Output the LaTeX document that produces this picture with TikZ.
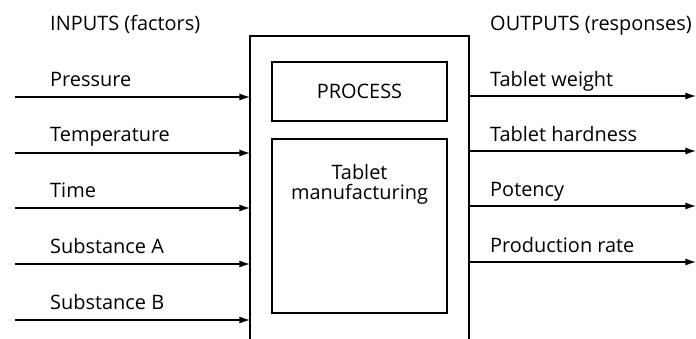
\documentclass[tikz,border=0pt]{standalone}
\usepackage{fontspec}
\setmainfont{Open Sans}
\usetikzlibrary{arrows.meta}

\begin{document}
\begin{tikzpicture}[x=0.03cm,y=-0.03cm,
    font=\fontsize{17}{20}\selectfont,
    flow/.style={line width=1.1pt,-{Latex[length=9pt,width=6pt]}},
    lbl/.style={anchor=base west,inner sep=0pt}]
      \useasboundingbox (0,0) rectangle (696,339) ;
      % outer process block, open at the bottom
      \draw[line width=1.1pt] (250,339)--(250,36)--(469,36)--(469,339) ;
      \node[draw,line width=1.1pt,minimum width=175*0.03cm,minimum height=59*0.03cm] %
      (proc) at (359.5,91.5) {PROCESS} ;
      \node[draw,line width=1.1pt,minimum width=175*0.03cm,minimum height=174*0.03cm] %
      (mfg) at (359.5,226) {} ;
      \node[align=center,anchor=north] (mfgtxt) at (359.5,160) %
      {Tablet\\[-3pt]manufacturing} ;
      % headings
      \node[lbl] (inhead) at (50,31) {INPUTS (factors)} ;
      \node[lbl] (outhead) at (490,31) {OUTPUTS (responses)} ;
      % inputs
      \coordinate (i1s) at (15,97) ;  \coordinate (i1e) at (250,97) ;
      \coordinate (i2s) at (15,153) ; \coordinate (i2e) at (250,153) ;
      \coordinate (i3s) at (15,208) ; \coordinate (i3e) at (250,208) ;
      \coordinate (i4s) at (15,264) ; \coordinate (i4e) at (250,264) ;
      \coordinate (i5s) at (15,320) ; \coordinate (i5e) at (250,320) ;
      \draw[flow] (i1s)--(i1e) ;
      \draw[flow] (i2s)--(i2e) ;
      \draw[flow] (i3s)--(i3e) ;
      \draw[flow] (i4s)--(i4e) ;
      \draw[flow] (i5s)--(i5e) ;
      \node[lbl] (pressure) at (50,87) {Pressure} ;
      \node[lbl] (temp) at (50,142) {Temperature} ;
      \node[lbl] (time) at (50,197) {Time} ;
      \node[lbl] (subA) at (50,253) {Substance A} ;
      \node[lbl] (subB) at (50,309) {Substance B} ;
      % outputs
      \coordinate (o1s) at (469,96) ;  \coordinate (o1e) at (696,96) ;
      \coordinate (o2s) at (469,151) ; \coordinate (o2e) at (696,151) ;
      \coordinate (o3s) at (469,206) ; \coordinate (o3e) at (696,206) ;
      \coordinate (o4s) at (469,262) ; \coordinate (o4e) at (696,262) ;
      \draw[flow] (o1s)--(o1e) ;
      \draw[flow] (o2s)--(o2e) ;
      \draw[flow] (o3s)--(o3e) ;
      \draw[flow] (o4s)--(o4e) ;
      \node[lbl] (weight) at (490,86) {Tablet weight} ;
      \node[lbl] (hardness) at (490,141) {Tablet hardness} ;
      \node[lbl] (potency) at (490,196) {Potency} ;
      \node[lbl] (rate) at (490,252) {Production rate} ;
    \end{tikzpicture}
\end{document}
